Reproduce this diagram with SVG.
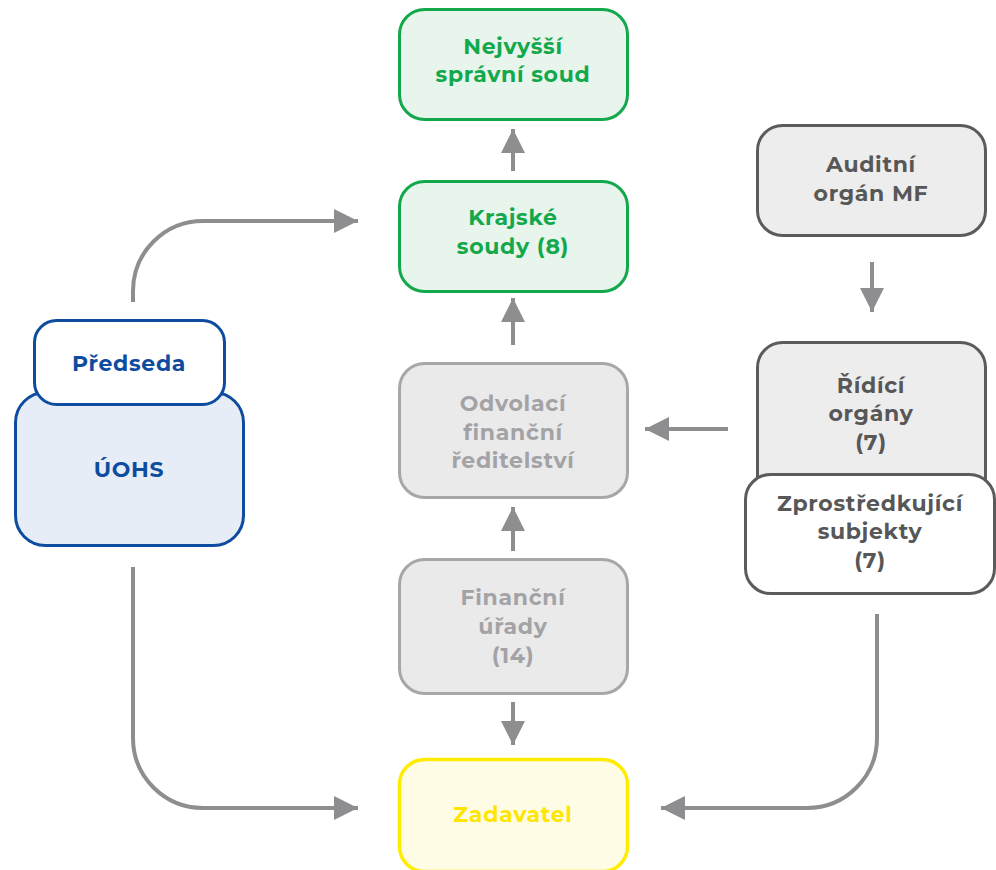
<svg xmlns="http://www.w3.org/2000/svg" width="996" height="870" viewBox="0 0 996 870">
<defs>
<marker id="ah" viewBox="0 0 10 10" refX="10" refY="5" markerWidth="6" markerHeight="6" markerUnits="strokeWidth" orient="auto">
<path d="M0,0 L10,5 L0,10 z" fill="#8e8e90"/>
</marker>
</defs>
<style>
text{font-family:Montserrat,"Open Sans","Liberation Sans",sans-serif;font-weight:700;font-size:22px;letter-spacing:0.7px;text-anchor:middle}
.con{fill:none;stroke:#8e8e90;stroke-width:4;marker-end:url(#ah)}
.green rect{fill:#e7f5ec;stroke:#12a84b;stroke-width:3}
.green text{fill:#12a84b}
.lgray rect{fill:#eaeaeb;stroke:#a7a7a9;stroke-width:3}
.lgray text{fill:#a3a3a5}
.dgray rect{fill:#ededed;stroke:#5b5b5b;stroke-width:3}
.dgray text{fill:#575757}
.blue rect{fill:#e6edf6;stroke:#0e4c9f;stroke-width:3}
.blue text{fill:#0e4c9f}
.yellow rect{fill:#fffce6;stroke:#ffec00;stroke-width:3.5}
.yellow text{fill:#ffe600}
g.white rect{fill:#ffffff}
</style>
<g id="connectors">
<path class="con" d="M513,171 V129"/>
<path class="con" d="M513,345 V298"/>
<path class="con" d="M513,551 V507"/>
<path class="con" d="M513,702 V745"/>
<path class="con" d="M872,262 V312"/>
<path class="con" d="M728,429 H645"/>
<path class="con" d="M133,302 V291 A70,70 0 0 1 203,221 H358"/>
<path class="con" d="M133,567 V738 A70,70 0 0 0 203,808 H358"/>
<path class="con" d="M877,614 V738 A70,70 0 0 1 807,808 H661"/>
</g>
<g id="nss" class="green">
<rect x="399.5" y="9.5" width="228" height="110" rx="25"/>
<text x="513" y="54">Nejvyšší</text>
<text x="513" y="82">správní soud</text>
</g>
<g id="ks" class="green">
<rect x="399.5" y="181.5" width="228" height="110" rx="25"/>
<text x="513" y="225">Krajské</text>
<text x="513" y="254">soudy (8)</text>
</g>
<g id="ofr" class="lgray">
<rect x="399.5" y="363.5" width="228" height="134" rx="25"/>
<text x="513" y="411">Odvolací</text>
<text x="513" y="440">finanční</text>
<text x="513" y="468">ředitelství</text>
</g>
<g id="fu" class="lgray">
<rect x="399.5" y="559.5" width="228" height="134" rx="25"/>
<text x="513" y="605">Finanční</text>
<text x="513" y="634">úřady</text>
<text x="513" y="663">(14)</text>
</g>
<g id="zadavatel" class="yellow">
<rect x="399.5" y="759.5" width="228" height="112" rx="25"/>
<text x="513" y="822">Zadavatel</text>
</g>
<g id="auditni" class="dgray">
<rect x="757.5" y="125.5" width="228" height="110" rx="25"/>
<text x="871" y="172">Auditní</text>
<text x="871" y="201">orgán MF</text>
</g>
<g id="ridici" class="dgray">
<rect x="757.5" y="342.5" width="228" height="160" rx="25"/>
<text x="871" y="393">Řídící</text>
<text x="871" y="421">orgány</text>
<text x="871" y="450">(7)</text>
</g>
<g id="zprostredkujici" class="dgray white">
<rect x="745.5" y="474.5" width="249" height="119" rx="25"/>
<text x="870" y="511">Zprostředkující</text>
<text x="870" y="539">subjekty</text>
<text x="870" y="568">(7)</text>
</g>
<g id="uohs" class="blue">
<rect x="15.5" y="392.5" width="228" height="153" rx="30"/>
<text x="129" y="477">ÚOHS</text>
</g>
<g id="predseda" class="blue white">
<rect x="34.5" y="320.5" width="190" height="84" rx="22"/>
<text x="129" y="371">Předseda</text>
</g>
</svg>
